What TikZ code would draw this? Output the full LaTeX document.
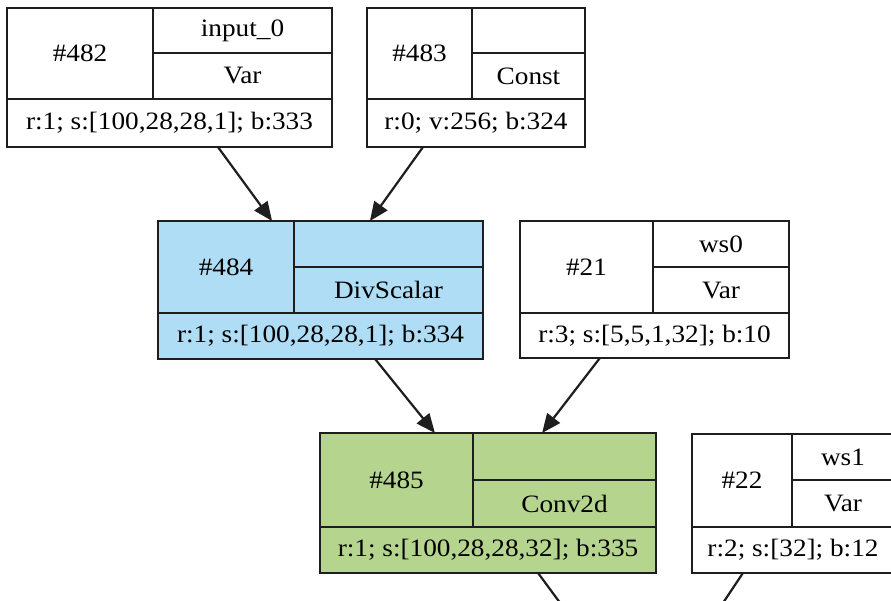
\documentclass[tikz,border=0pt]{standalone}
\usepackage{fontspec}
\setmainfont[FakeStretch=1.09]{Liberation Serif}
\usetikzlibrary{arrows.meta,calc}
\definecolor{divblue}{RGB}{174,221,245}
\definecolor{convgreen}{RGB}{181,213,143}
\definecolor{edgegray}{RGB}{30,30,30}
\tikzset{
  recbox/.style={draw=edgegray, line width=2.2pt, rectangle, inner sep=0pt, outer sep=0pt, anchor=north west},
  cellline/.style={draw=edgegray, line width=2.2pt},
  reclabel/.style={font=\fontsize{25}{29}\selectfont, inner sep=0pt, text=black},
  flow/.style={draw=edgegray, line width=2.2pt, -{Triangle[length=19pt,width=16pt]}},
  flowout/.style={draw=edgegray, line width=2.2pt},
}
\newcommand{\recbox}[9]{%
  \pgfmathsetmacro\recW{#5-#3}\pgfmathsetmacro\recH{#6-#4}%
  \node[recbox, fill=#2, minimum width=\recW pt, minimum height=\recH pt] (#1) at (#3,#4) {};
  \draw[cellline] (#7,#4) -- (#7,#9) (#7,#8) -- (#5,#8) (#3,#9) -- (#5,#9);
}
\begin{document}
\begin{tikzpicture}[x=1pt,y=-1pt]
\useasboundingbox (0,0) rectangle (891,600);
\clip (0,0) rectangle (891,600);

% #482
\recbox{n482}{white}{7}{8}{332}{147}{153}{53}{99}
\node[reclabel] (n482-id) at (80,53) {\#482};
\node[reclabel] (n482-name) at (242.5,30.5) {input\_0};
\node[reclabel] (n482-op) at (242.5,76) {Var};
\node[reclabel] (n482-info) at (169.5,123) {r:1; s:[100,28,28,1]; b:333};

% #483
\recbox{n483}{white}{367}{8}{585}{147}{472}{53}{99}
\node[reclabel] (n483-id) at (419.5,53) {\#483};
\node[reclabel] (n483-op) at (528.5,76) {Const};
\node[reclabel] (n483-info) at (476,123) {r:0; v:256; b:324};

% #484
\recbox{n484}{divblue}{158}{221}{483}{359}{294}{267}{313}
\node[reclabel] (n484-id) at (226,267) {\#484};
\node[reclabel] (n484-op) at (388.5,290) {DivScalar};
\node[reclabel] (n484-info) at (320.5,336) {r:1; s:[100,28,28,1]; b:334};

% #21
\recbox{n21}{white}{520}{221}{789}{358}{653}{267}{313}
\node[reclabel] (n21-id) at (586.5,267) {\#21};
\node[reclabel] (n21-name) at (721,244) {ws0};
\node[reclabel] (n21-op) at (721,290) {Var};
\node[reclabel] (n21-info) at (654.5,335.5) {r:3; s:[5,5,1,32]; b:10};

% #485
\recbox{n485}{convgreen}{320}{433}{656}{573}{473}{480}{527}
\node[reclabel] (n485-id) at (396.5,480) {\#485};
\node[reclabel] (n485-op) at (564.5,503.5) {Conv2d};
\node[reclabel] (n485-info) at (488,550) {r:1; s:[100,28,28,32]; b:335};

% #22
\recbox{n22}{white}{692}{434}{894}{573}{792}{480}{527}
\node[reclabel] (n22-id) at (742,480) {\#22};
\node[reclabel] (n22-name) at (843,457) {ws1};
\node[reclabel] (n22-op) at (843,503.5) {Var};
\node[reclabel] (n22-info) at (793,550) {r:2; s:[32]; b:12};

% connectors
\draw[flow] ($(n482.south west)!0.649!(n482.south east)$) -- ($(n484.north west)!0.351!(n484.north east)$);
\draw[flow] ($(n483.south west)!0.257!(n483.south east)$) -- ($(n484.north west)!0.652!(n484.north east)$);
\draw[flow] ($(n484.south west)!0.668!(n484.south east)$) -- ($(n485.north west)!0.342!(n485.north east)$);
\draw[flow] ($(n21.south west)!0.297!(n21.south east)$) -- ($(n485.north west)!0.661!(n485.north east)$);
\coordinate (out485) at (569,615);
\coordinate (out22) at (715,615);
\draw[flowout] ($(n485.south west)!0.649!(n485.south east)$) -- (out485);
\draw[flowout] ($(n22.south west)!0.252!(n22.south east)$) -- (out22);
\end{tikzpicture}
\end{document}
